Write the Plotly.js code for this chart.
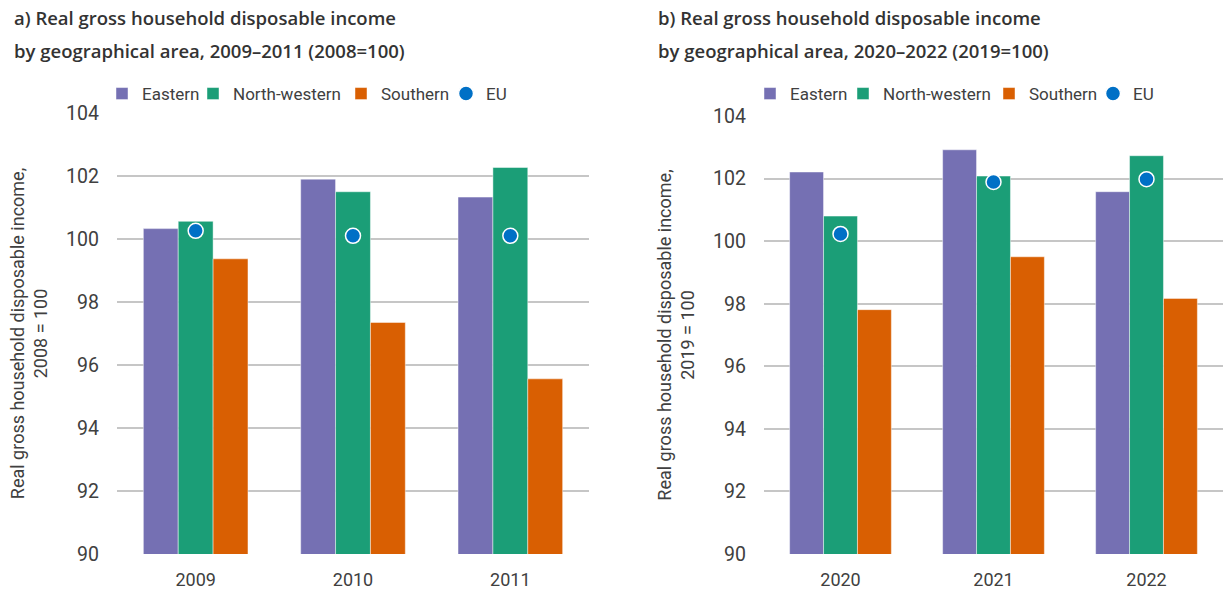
<!DOCTYPE html>
<html>
<head>
<meta charset="utf-8">
<script src="https://cdn.plot.ly/plotly-3.0.1.min.js"></script>
<style>
html,body{margin:0;padding:0;background:#fff;}
#chart{width:1225px;height:594px;}
</style>
</head>
<body>
<div id="chart"></div>
<script>
// Panel a) 2009–2011 (2008=100)
const yearsA = ['2009', '2010', '2011'];
const easternA = [100.33, 101.90, 101.33];
const northWesternA = [100.56, 101.50, 102.27];
const southernA = [99.37, 97.35, 95.56];
const euA = [100.26, 100.10, 100.10];

// Panel b) 2020–2022 (2019=100)
const yearsB = ['2020', '2021', '2022'];
const easternB = [102.21, 102.92, 101.58];
const northWesternB = [100.80, 102.08, 102.73];
const southernB = [97.81, 99.50, 98.17];
const euB = [100.23, 101.89, 101.98];

const yTicks = [90, 92, 94, 96, 98, 100, 102, 104];

const seriesNames = ['Eastern', 'North-western', 'Southern', 'EU'];
const colors = {Eastern: '#7570b3', 'North-western': '#1b9e77', Southern: '#d95f02', EU: '#0070c6'};

const titlesA = ['a) Real gross household disposable income', 'by geographical area, 2009\u20132011 (2008=100)'];
const titlesB = ['b) Real gross household disposable income', 'by geographical area, 2020\u20132022 (2019=100)'];
const yTitleA = 'Real gross household disposable income,<br>2008 = 100';
const yTitleB = 'Real gross household disposable income,<br>2019 = 100';

const FONT = 'Roboto, "Open Sans", sans-serif';
const TXT = '#404040';

const W = 1225, H = 594;
const mT = 113, mB = 40;
const plotH = H - mT - mB;

// legend entry anchor positions (px) for each panel, one legend per entry
const legendXA = [102, 193, 341, 446];
const legendXB = [750, 843, 989, 1093];

function panel(years, series, xa, ya, legendBase) {
  const traces = [];
  series.forEach((vals, i) => {
    const name = seriesNames[i];
    const lid = 'legend' + (legendBase + i === 1 ? '' : (legendBase + i));
    if (name === 'EU') {
      traces.push({
        type: 'scatter', mode: 'markers', name: name, x: years, y: vals,
        xaxis: xa, yaxis: ya, legend: lid,
        marker: {color: colors.EU, size: 15, line: {color: '#ffffff', width: 1.5}}
      });
    } else {
      traces.push({
        type: 'bar', name: name, x: years, y: vals, xaxis: xa, yaxis: ya,
        legend: lid,
        marker: {color: colors[name], line: {color: 'rgba(255,255,255,0.45)', width: 1}}
      });
    }
  });
  return traces;
}

const data = [
  ...panel(yearsA, [easternA, northWesternA, southernA, euA], 'x', 'y', 1),
  ...panel(yearsB, [easternB, northWesternB, southernB, euB], 'x2', 'y2', 5)
];

function yaxis(domain, titleText, anchor) {
  return {
    domain: domain, anchor: anchor, range: [90, 104], tickvals: yTicks,
    showgrid: true, gridcolor: '#c6c6c6', gridwidth: 1.6, zeroline: false,
    showline: false, ticks: '', ticklabelstandoff: 17,
    tickfont: {family: FONT, size: 19.5, color: TXT},
    title: {text: titleText, font: {family: FONT, size: 18, color: TXT}, standoff: 13},
    fixedrange: true
  };
}
function xaxis(domain, anchor) {
  return {
    domain: domain, anchor: anchor, type: 'category', showgrid: false, zeroline: false,
    showline: false, ticks: '', ticklabelstandoff: 13,
    tickfont: {family: FONT, size: 18, color: TXT}, fixedrange: true
  };
}
function legend(xpx) {
  return {
    orientation: 'h', x: xpx / W, xanchor: 'left', y: 1 + (mT - 94) / plotH, yanchor: 'middle',
    font: {family: FONT, size: 17, color: TXT}, bgcolor: 'rgba(0,0,0,0)',
    itemwidth: 30, traceorder: 'normal'
  };
}

const annotations = [];
function addTitle(lines, x) {
  lines.forEach((t, i) => annotations.push({
    text: t, xref: 'paper', yref: 'paper',
    x: x, xanchor: 'left', y: 1 + (mT - (18 + i * 32)) / plotH, yanchor: 'middle',
    showarrow: false, font: {family: '"Open Sans", Roboto, sans-serif', size: 18.5, weight: 600, color: '#333333'}
  }));
}
addTitle(titlesA, 12 / W);
addTitle(titlesB, 656 / W);

const layout = {
  width: W, height: H,
  margin: {l: 0, r: 0, t: mT, b: mB, autoexpand: false},
  paper_bgcolor: '#ffffff', plot_bgcolor: '#ffffff',
  barmode: 'group', bargap: 0.335, bargroupgap: 0,
  showlegend: true,
  xaxis: xaxis([117 / W, 589 / W], 'y'),
  yaxis: yaxis([0, 1], yTitleA, 'x'),
  xaxis2: xaxis([764 / W, 1223 / W], 'y2'),
  yaxis2: yaxis([0, (H - mB - 116) / plotH], yTitleB, 'x2'),
  annotations: annotations,
  font: {family: FONT, color: TXT}
};
legendXA.forEach((px, i) => { layout['legend' + (i === 0 ? '' : (i + 1))] = legend(px); });
legendXB.forEach((px, i) => { layout['legend' + (i + 5)] = legend(px); });

Plotly.newPlot('chart', data, layout, {displayModeBar: false, responsive: false});
</script>
</body>
</html>
